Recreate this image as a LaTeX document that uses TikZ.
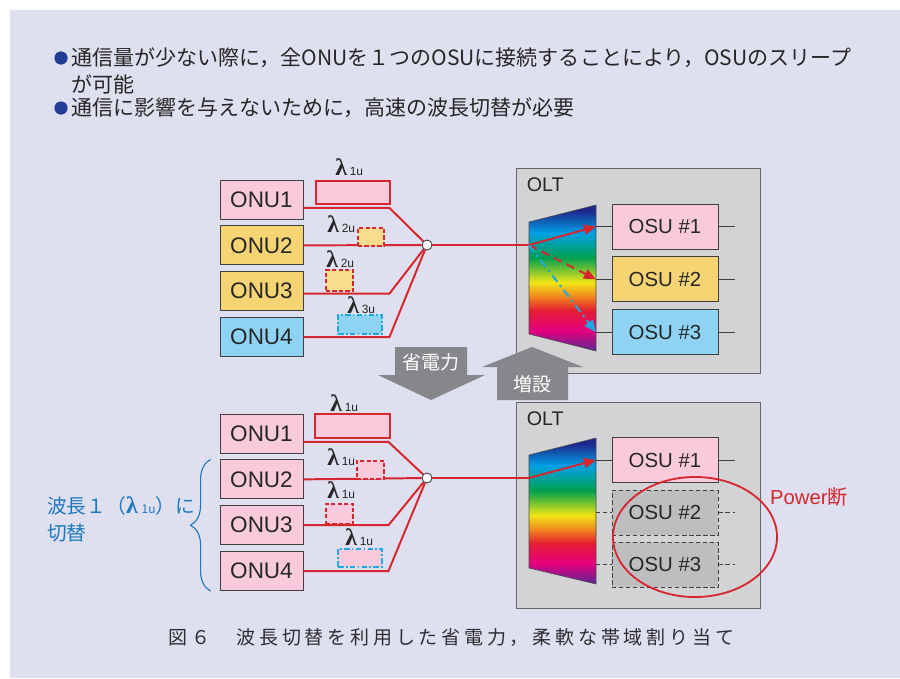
\documentclass[tikz,border=0pt]{standalone}
\usepackage{fontspec}
\setmainfont{Liberation Sans}
\newfontfamily\jpfont{Noto Sans CJK JP}
\newfontfamily\capfont{Noto Sans CJK JP}[LetterSpace=20]
\newfontfamily\greekfont{Liberation Serif}
\usetikzlibrary{arrows.meta, positioning, decorations.pathreplacing}

\definecolor{bgLav}{RGB}{222,223,239}
\definecolor{onuPink}{RGB}{249,202,219}
\definecolor{onuYellow}{RGB}{246,212,115}
\definecolor{onuBlue}{RGB}{142,211,243}
\definecolor{fiberRed}{RGB}{214,38,46}
\definecolor{dropCyan}{RGB}{30,168,226}
\definecolor{oltGray}{RGB}{211,211,213}
\definecolor{offGray}{RGB}{190,190,193}
\definecolor{arrowGray}{RGB}{134,135,139}
\definecolor{noteBlue}{RGB}{30,120,190}
\definecolor{dotBlue}{RGB}{32,62,150}
\definecolor{capGray}{RGB}{45,45,50}
% colours of the demux prism, bottom to top
\definecolor{prPurple}{RGB}{90,40,145}
\definecolor{prMagenta}{RGB}{228,0,127}
\definecolor{prRed}{RGB}{230,30,50}
\definecolor{prOrange}{RGB}{240,130,30}
\definecolor{prYellow}{RGB}{240,230,20}
\definecolor{prGreen}{RGB}{0,160,80}
\definecolor{prCyan}{RGB}{0,160,230}
\definecolor{prBlue}{RGB}{30,40,140}

\pgfdeclareverticalshading{rainbow}{100bp}{color(0bp)=(prPurple); color(25bp)=(prPurple);
  color(32bp)=(prMagenta); color(39bp)=(prRed); color(43.5bp)=(prOrange);
  color(48.5bp)=(prYellow); color(57bp)=(prGreen); color(65.5bp)=(prCyan);
  color(73bp)=(prBlue); color(100bp)=(prBlue)}

% upstream wavelength label, e.g. \wavelab{1u}
\newcommand\lamglyph{{\greekfont\bfseries\fontsize{17}{17}\selectfont λ}}
\newcommand\wavelab[1]{\lamglyph\hspace{0.2em}{\fontsize{8.5}{8.5}\selectfont #1}}

\begin{document}
\begin{tikzpicture}[x=0.025cm, y=-0.025cm,
    onu/.style={draw=black!75, line width=0.6pt, minimum width=2.075cm, minimum height=0.975cm,
      inner sep=0pt, text=black!85, font=\fontsize{16}{16}\selectfont},
    osu/.style={draw=black!75, line width=0.6pt, minimum width=2.65cm, minimum height=1.125cm,
      inner sep=0pt, text=black!85, font=\fontsize{14.5}{14.5}\selectfont},
    olt/.style={draw=black!60, fill=oltGray, line width=0.7pt, minimum width=6.075cm, minimum height=5.1cm},
    oltlabel/.style={anchor=north west, inner sep=0pt, text=black!85, font=\fontsize{14}{14}\selectfont},
    fiber/.style={fiberRed, line width=1.4pt},
    splitter/.style={circle, draw=black!80, fill=white, line width=0.6pt, minimum size=0.25cm, inner sep=0pt},
    slot/.style={line width=1.3pt, inner sep=0pt},
    dashslot/.style={dash pattern=on 3pt off 1.6pt},
    dotslot/.style={dash pattern=on 4pt off 1.6pt on 1.2pt off 1.6pt},
    lamlabel/.style={anchor=base west, inner sep=0pt, text=black!85},
    port/.style={black!75, line width=0.6pt},
    beam/.style={-{Triangle[length=0.3cm, width=0.25cm]}, line width=1.4pt},
    bullet/.style={circle, fill=dotBlue, minimum size=0.33cm, inner sep=0pt},
    note/.style={inner sep=0pt, text=black!85, font=\jpfont\fontsize{14.95}{14.95}\selectfont},
    arrowtext/.style={text=white, font=\jpfont\fontsize{13.5}{13.5}\selectfont}
  ]
  \useasboundingbox (0,0) rectangle (900,678);
  \fill[bgLav] (10,10) rectangle (900,678);

  % summary
  \node[bullet] (dotA) at (61,58) {};
  \node[note, anchor=west, right=0.08cm of dotA] (noteA) {通信量が少ない際に，全ONUを１つのOSUに接続することにより，OSUのスリープ};
  \node[note, anchor=west] (noteA2) at (noteA.west |- 0,84) {が可能};
  \node[bullet] (dotB) at (61,108) {};
  \node[note, anchor=west, right=0.08cm of dotB] (noteB) {通信に影響を与えないために，高速の波長切替が必要};

  % ---- upper: each ONU on its own wavelength ----
  \node[olt] (oltA) at (638.5,271) {};
  \node[oltlabel] (oltAtxt) at ([xshift=0.25cm, yshift=-0.22cm]oltA.north west) {OLT};

  \node[onu, fill=onuPink] (onuA1) at (261.5,199.5) {ONU1};
  \node[onu, fill=onuYellow, below=0.15cm of onuA1] (onuA2) {ONU2};
  \node[onu, fill=onuYellow, below=0.15cm of onuA2] (onuA3) {ONU3};
  \node[onu, fill=onuBlue, below=0.15cm of onuA3] (onuA4) {ONU4};
  \node[splitter] (splitA) at (427,245) {};

  \draw[fiber] ([yshift=-0.21cm]onuA1.east) -- ++(86,0) -- (splitA);
  \draw[fiber] (onuA2.east) -- (splitA);
  \draw[fiber] ([yshift=-0.06cm]onuA3.east) -- ++(86,0) -- (splitA);
  \draw[fiber] (onuA4.east) -- ++(86,0) -- (splitA);

  \node[slot, draw=fiberRed, fill=onuPink, minimum width=1.85cm, minimum height=0.575cm] (slotA1) at (353,192.5) {};
  \node[slot, dashslot, draw=fiberRed, fill=onuYellow!80!white, minimum width=0.65cm, minimum height=0.45cm] (slotA2) at (371,237) {};
  \node[slot, dashslot, draw=fiberRed, fill=onuYellow!80!white, minimum width=0.675cm, minimum height=0.525cm] (slotA3) at (339.5,280.5) {};
  \node[slot, dotslot, draw=dropCyan, fill=onuBlue, minimum width=1.1cm, minimum height=0.475cm] (slotA4) at (360,324.5) {};
  \node[lamlabel] (lamA1) at (335,175) {\wavelab{1u}};
  \node[lamlabel] (lamA2) at (327,232) {\wavelab{2u}};
  \node[lamlabel] (lamA3) at (326,267) {\wavelab{2u}};
  \node[lamlabel] (lamA4) at (347,313) {\wavelab{3u}};

  \node[osu, fill=onuPink] (osuA1) at (665,226.5) {OSU \#1};
  \node[osu, fill=onuYellow, below=0.175cm of osuA1] (osuA2) {OSU \#2};
  \node[osu, fill=onuBlue, below=0.175cm of osuA2] (osuA3) {OSU \#3};

  % demux prism
  \shadedraw[shading=rainbow, draw=black!70, line width=0.4pt] (529,222) -- (596,205) -- (596,351) -- (529,334) -- cycle;
  \coordinate (inA) at (529,245);
  \coordinate (edgeA) at (596,278);
  \foreach \i in {1,2,3} {
    \coordinate (outA\i) at (osuA\i.west -| edgeA);
    \draw[port] (outA\i) -- (osuA\i.west);
    \draw[port] (osuA\i.east) -- ++(17,0);
  }
  \draw[fiber] (splitA) -- (inA);
  \draw[beam, fiberRed] (inA) -- (outA1);
  \draw[beam, fiberRed, dash pattern=on 6pt off 4pt] (inA) -- (outA2);
  \draw[beam, dropCyan, dash pattern=on 6pt off 3pt on 1.5pt off 3pt] (inA) -- (outA3);

  % ---- lower: all ONUs moved to lambda 1u ----
  \node[olt, minimum height=5.125cm] (oltB) at (638.5,505.5) {};
  \node[oltlabel] (oltBtxt) at ([xshift=0.25cm, yshift=-0.22cm]oltB.north west) {OLT};

  % mode change arrows
  \fill[arrowGray] (395,347) -- (467,347) -- (467,375) -- (485,375) -- (431,400) -- (378,375) -- (395,375) -- cycle;
  \node[arrowtext] (saveTxt) at (431,362) {省電力};
  \fill[arrowGray] (532,347) -- (583,367) -- (568,367) -- (568,400) -- (497,400) -- (497,367) -- (482,367) -- cycle;
  \node[arrowtext] (addTxt) at (532,384) {増設};

  \node[onu, fill=onuPink] (onuB1) at (261.5,433.5) {ONU1};
  \node[onu, fill=onuPink, below=0.15cm of onuB1] (onuB2) {ONU2};
  \node[onu, fill=onuPink, below=0.15cm of onuB2] (onuB3) {ONU3};
  \node[onu, fill=onuPink, below=0.15cm of onuB3] (onuB4) {ONU4};
  \node[splitter] (splitB) at (427,478) {};

  \draw[fiber] ([yshift=-0.21cm]onuB1.east) -- ++(85,0) -- (splitB);
  \draw[fiber] (onuB2.east) -- (splitB);
  \draw[fiber] (onuB3.east) -- ++(85,0) -- (splitB);
  \draw[fiber] (onuB4.east) -- ++(85,0) -- (splitB);

  \node[slot, draw=fiberRed, fill=onuPink, minimum width=1.875cm, minimum height=0.6cm] (slotB1) at (352.5,426) {};
  \node[slot, dashslot, draw=fiberRed, fill=onuPink, minimum width=0.675cm, minimum height=0.45cm] (slotB2) at (370.5,470) {};
  \node[slot, dashslot, draw=fiberRed, fill=onuPink, minimum width=0.675cm, minimum height=0.5cm] (slotB3) at (339.5,514) {};
  \node[slot, dotslot, draw=dropCyan, fill=onuPink, minimum width=1.1cm, minimum height=0.45cm] (slotB4) at (360,558) {};
  \node[lamlabel] (lamB1) at (330,411) {\wavelab{1u}};
  \node[lamlabel] (lamB2) at (327,465) {\wavelab{1u}};
  \node[lamlabel] (lamB3) at (327,498) {\wavelab{1u}};
  \node[lamlabel] (lamB4) at (345,545) {\wavelab{1u}};

  \draw[noteBlue, line width=0.8pt, decorate, decoration={brace, amplitude=0.5cm}]
    ([xshift=-0.225cm]onuB4.south west) -- ([xshift=-0.225cm]onuB2.north west);
  \node[anchor=west, align=left, inner sep=0pt, text=noteBlue,
    font=\jpfont\fontsize{14}{19.2}\selectfont] (swNote) at (47,519.5)
    {波長１（\wavelab{1u}）に\\切替};

  \node[osu, fill=onuPink] (osuB1) at (665,460) {OSU \#1};
  \node[osu, fill=offGray, dash pattern=on 3pt off 2pt, below=0.175cm of osuB1] (osuB2) {OSU \#2};
  \node[osu, fill=offGray, dash pattern=on 3pt off 2pt, below=0.15cm of osuB2] (osuB3) {OSU \#3};

  \shadedraw[shading=rainbow, draw=black!70, line width=0.4pt] (529,455) -- (596,438) -- (596,584) -- (529,568) -- cycle;
  \coordinate (inB) at (529,478);
  \coordinate (edgeB) at (596,511);
  \foreach \i in {1,2,3} \coordinate (outB\i) at (osuB\i.west -| edgeB);
  \draw[port] (outB1) -- (osuB1.west);
  \draw[port] (osuB1.east) -- ++(17,0);
  \foreach \i in {2,3} {
    \draw[port, dash pattern=on 3pt off 2pt] (outB\i) -- (osuB\i.west);
    \draw[port, dash pattern=on 3pt off 2pt] (osuB\i.east) -- ++(17,0);
  }
  \draw[fiber] (splitB) -- (inB);
  \draw[beam, fiberRed] (inB) -- (outB1);

  % switched-off OSUs
  \coordinate (offC) at (695,537);
  \draw[fiberRed, line width=1.3pt] (offC) ellipse [x radius=2.05cm, y radius=1.5cm];
  \node[text=fiberRed, inner sep=0pt, font=\fontsize{14.4}{14.4}\selectfont] (offTxt) at (809,497) {Power{\jpfont 断}};

  % caption
  \node[anchor=west, inner sep=0pt, text=capGray, font=\capfont\fontsize{13.5}{13.5}\selectfont] (caption) at (168,638)
    {図６　波長切替を利用した省電力，柔軟な帯域割り当て};
\end{tikzpicture}
\end{document}
